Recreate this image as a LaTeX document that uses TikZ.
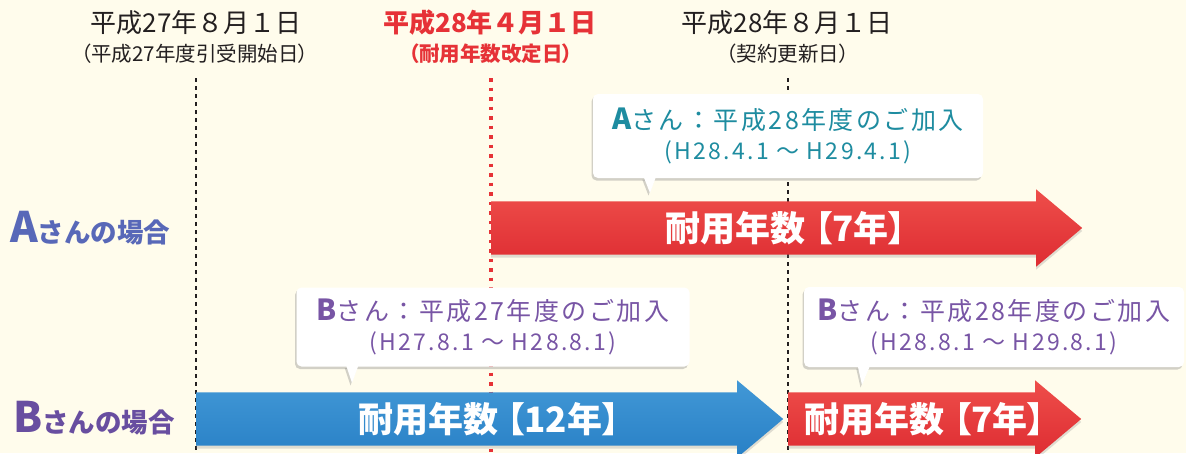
\documentclass[tikz,border=0pt]{standalone}
\usepackage{fontspec}
\setmainfont{Noto Sans CJK JP}
\newfontfamily\jpprop{Noto Sans CJK JP}[RawFeature=+palt]
\newfontfamily\jpwide{Noto Sans CJK JP}[LetterSpace=10]
\usetikzlibrary{shapes.arrows,shadows}

\definecolor{bgcream}{RGB}{255,252,236}
\definecolor{headink}{RGB}{35,31,32}
\definecolor{revred}{RGB}{230,50,55}
\definecolor{arrred}{RGB}{222,44,50}
\definecolor{arrredlt}{RGB}{238,78,74}
\definecolor{arrblue}{RGB}{40,128,198}
\definecolor{arrbluelt}{RGB}{66,152,214}
\definecolor{tealink}{RGB}{30,140,160}
\definecolor{purpink}{RGB}{120,85,165}
\definecolor{caseA}{RGB}{88,104,184}
\definecolor{caseB}{RGB}{104,78,160}

\begin{document}
\begin{tikzpicture}[x=1pt,y=-1pt,
    datehead/.style={inner sep=0pt,
      font=\fontsize{26}{26}\selectfont},
    datesub/.style={inner sep=0pt,
      font=\jpprop\fontsize{20.5}{20.5}\selectfont},
    timeline/.style={line width=1.2pt,
      dash pattern=on 4pt off 4pt},
    revline/.style={revred, line width=3.5pt,
      dash pattern=on 3.5pt off 6pt},
    caselabel/.style={anchor=base west, inner sep=0pt,
      font=\bfseries\fontsize{26.5}{26.5}\selectfont},
    yeararrow/.style={single arrow, anchor=tail,
      single arrow head extend=12pt, single arrow tip angle=80,
      inner xsep=0pt, inner ysep=26.5pt,
      drop shadow={shadow xshift=0pt, shadow yshift=-3pt,
        opacity=.25}},
    redarrow/.style={yeararrow, top color=arrredlt,
      bottom color=arrred},
    bluearrow/.style={yeararrow, top color=arrbluelt,
      bottom color=arrblue},
    lifetext/.style={inner sep=0pt, text=white,
      font=\jpprop\bfseries\fontsize{35}{35}\selectfont},
    balloon/.style={fill=white, rounded corners=5pt,
      inner sep=0pt, align=center,
      font=\jpwide\fontsize{25}{30}\selectfont,
      drop shadow={shadow xshift=-1.5pt, shadow yshift=-2.5pt,
        opacity=.35}},
    tail/.style={fill=white,
      drop shadow={shadow xshift=-1.5pt, shadow yshift=-2.5pt,
        opacity=.35}}]
  \useasboundingbox (0,0) rectangle (1186,453);
  \fill[bgcream] (0,0) rectangle (1186,453);

  % dates
  \node[datehead, text=headink] (dayA) at (196,23) {平成27年８月１日};
  \node[datesub, text=headink] (subA) at (195,54) {（平成27年度引受開始日）};
  \node[datehead, text=revred, font=\bfseries\fontsize{26}{26}\selectfont]
    (dayR) at (490,23) {平成28年４月１日};
  \node[datesub, text=revred, font=\jpprop\bfseries\fontsize{20.5}{20.5}\selectfont]
    (subR) at (491,54) {（耐用年数改定日）};
  \node[datehead, text=headink] (dayB) at (787,23) {平成28年８月１日};
  \node[datesub, text=headink] (subB) at (788,54) {（契約更新日）};

  \coordinate (lineAtop) at (196,78);
  \coordinate (lineAbot) at (196,453);
  \coordinate (lineRtop) at (491,78);
  \coordinate (lineRbot) at (491,453);
  \coordinate (lineBtop) at (788,78);
  \coordinate (lineBbot) at (788,453);
  \draw[timeline, headink] (lineAtop) -- (lineAbot);
  \draw[revline] (lineRtop) -- (lineRbot);
  \draw[timeline, headink] (lineBtop) -- (lineBbot);

  % cases
  \node[caselabel, text=caseA] (caseAlbl) at (10,242)
    {{\fontsize{42}{42}\selectfont A}さんの場合};
  \node[caselabel, text=caseB] (caseBlbl) at (13,432)
    {{\fontsize{42}{42}\selectfont B}さんの場合};

  % useful life arrows
  \node[redarrow, minimum height=591pt] (lifeA) at (491,228) {};
  \node[bluearrow, minimum height=587pt] (lifeB1) at (196,419) {};
  \node[redarrow, minimum height=293pt] (lifeB2) at (788,419) {};
  \node[lifetext] (lifeAtxt) at (786,228) {耐用年数\hspace{.25em}【7年】};
  \node[lifetext] (lifeB1txt) at (489,419) {耐用年数\hspace{.25em}【12年】};
  \node[lifetext] (lifeB2txt) at (925,419) {耐用年数\hspace{.25em}【7年】};

  % balloons
  \node[balloon, text=tealink, minimum width=390pt, minimum height=84pt]
    (balA) at (788,136)
    {{\bfseries\fontsize{29}{30}\selectfont A}さん：平成28年度のご加入\\
     {\fontsize{23}{30}\selectfont (H28.4.1 ～ H29.4.1)}};
  \fill[tail] ([xshift=51pt,yshift=1pt]balA.south west) -- (650,193)
    -- ([xshift=63pt,yshift=1pt]balA.south west) -- cycle;

  \node[balloon, text=purpink, minimum width=393pt, minimum height=79pt]
    (balB1) at (493,327)
    {{\bfseries\fontsize{29}{30}\selectfont B}さん：平成27年度のご加入\\
     {\fontsize{23}{30}\selectfont (H27.8.1 ～ H28.8.1)}};
  \fill[tail] ([xshift=50pt,yshift=1pt]balB1.south west) -- (352,383)
    -- ([xshift=62pt,yshift=1pt]balB1.south west) -- cycle;

  \node[balloon, text=purpink, minimum width=380pt, minimum height=80pt]
    (balB2) at (994,327)
    {{\bfseries\fontsize{29}{30}\selectfont B}さん：平成28年度のご加入\\
     {\fontsize{23}{30}\selectfont (H28.8.1 ～ H29.8.1)}};
  \fill[tail] ([xshift=54pt,yshift=1pt]balB2.south west) -- (862,385)
    -- ([xshift=66pt,yshift=1pt]balB2.south west) -- cycle;
\end{tikzpicture}
\end{document}
